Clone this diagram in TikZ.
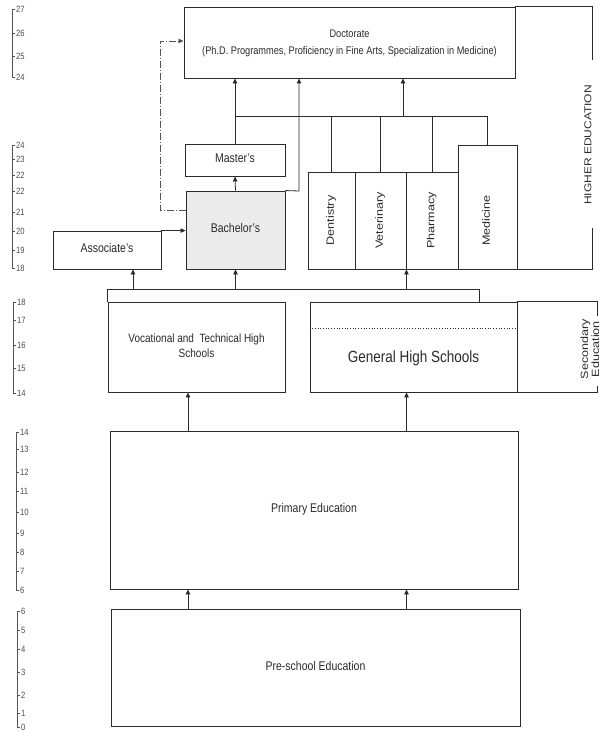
\documentclass[tikz,border=0pt]{standalone}
\usepackage{fontspec}
\setmainfont{Liberation Sans}
\usepackage{graphicx}
\usetikzlibrary{arrows.meta}
\newcommand{\hstr}[1]{\scalebox{1}[1.2]{\begin{tabular}{@{}c@{}}#1\end{tabular}}}
\newcommand{\vstr}[1]{\scalebox{1.2}[1]{\begin{tabular}{@{}c@{}}#1\end{tabular}}}
\definecolor{ink}{HTML}{2B2B2B}
\definecolor{bachfill}{HTML}{EBEBEB}
\begin{document}
\begin{tikzpicture}[x=1pt,y=-1pt,
  box/.style={draw=ink, line width=0.9pt, fill=white, inner sep=0pt, text=ink, align=center},
  link/.style={draw=ink, line width=0.8pt},
  arr/.style={link, -{Triangle[length=5pt,width=4.5pt]}},
  dashlink/.style={draw=ink!80, line width=0.8pt, dash pattern=on 7pt off 2pt on 1pt off 2pt, -{Triangle[length=5pt,width=4.5pt]}},
  lbl/.style={inner sep=0pt, text=ink, align=center},
  scaleline/.style={draw=ink!80, line width=0.7pt},
  scalenum/.style={inner sep=0pt, anchor=west, text=ink!85, font=\fontsize{7.6}{8}\selectfont}
]
\useasboundingbox (0,0) rectangle (601,732);

% ---------- age scales ----------
\draw[scaleline] (15,9) -- (12,9) -- (12,77) -- (15,77);
\foreach \v/\yy [count=\k] in {27/9,26/33,25/56,24/77} {
  \draw[scaleline] (12,\yy) -- (14.5,\yy);
  \node[scalenum] (sa\k) at (16,\yy) {\scalebox{1}[1.2]{\v}};}
\draw[scaleline] (15,145) -- (12,145) -- (12,268) -- (15,268);
\foreach \v/\yy [count=\k] in {24/145,23/159,22/175,22/191,21/212,20/231,19/250,18/268} {
  \draw[scaleline] (12,\yy) -- (14.5,\yy);
  \node[scalenum] (sb\k) at (16,\yy) {\scalebox{1}[1.2]{\v}};}
\draw[scaleline] (16,302) -- (13,302) -- (13,393) -- (16,393);
\foreach \v/\yy [count=\k] in {18/302,17/320,16/345,15/368,14/393} {
  \draw[scaleline] (13,\yy) -- (15.5,\yy);
  \node[scalenum] (sc\k) at (17,\yy) {\scalebox{1}[1.2]{\v}};}
\draw[scaleline] (19,432) -- (16,432) -- (16,590) -- (19,590);
\foreach \v/\yy [count=\k] in {14/432,13/449,12/472,11/491,10/512,9/533,8/552,7/571,6/590} {
  \draw[scaleline] (16,\yy) -- (18.5,\yy);
  \node[scalenum] (sd\k) at (20,\yy) {\scalebox{1}[1.2]{\v}};}
\draw[scaleline] (20,611) -- (17,611) -- (17,727) -- (20,727);
\foreach \v/\yy [count=\k] in {6/611,5/630,4/649,3/672,2/695,1/713,0/727} {
  \draw[scaleline] (17,\yy) -- (19.5,\yy);
  \node[scalenum] (se\k) at (21,\yy) {\scalebox{1}[1.2]{\v}};}

% ---------- boxes ----------
\node[box, minimum width=331pt, minimum height=71pt, font=\fontsize{9.2}{14}\selectfont] (doc) at (349.5,42.5)
  {\hstr{Doctorate\\(Ph.D. Programmes, Proficiency in Fine Arts, Specialization in Medicine)}};
\node[box, minimum width=100pt, minimum height=32pt, font=\fontsize{10.5}{12}\selectfont] (mast) at (235,160) {\hstr{Master's}};
\node[box, fill=bachfill, minimum width=99pt, minimum height=78pt, font=\fontsize{10.5}{12}\selectfont] (bach) at (235.5,230) {\hstr{Bachelor's}};
\node[box, minimum width=108pt, minimum height=38pt, font=\fontsize{10.5}{12}\selectfont] (assoc) at (107,250) {\hstr{Associate's}};

\node[box, minimum width=47pt, minimum height=97pt, font=\fontsize{10.5}{12}\selectfont] (dent) at (331.5,220.5) {\rotatebox{90}{\vstr{Dentistry}}};
\node[box, minimum width=51pt, minimum height=97pt, font=\fontsize{10.5}{12}\selectfont] (vet) at (380.5,220.5) {\rotatebox{90}{\vstr{Veterinary}}};
\node[box, minimum width=52pt, minimum height=97pt, font=\fontsize{10.5}{12}\selectfont] (pharm) at (432,220.5) {\rotatebox{90}{\vstr{Pharmacy}}};
\node[box, minimum width=59pt, minimum height=124pt] (med) at (487.5,207) {};
\node[lbl, font=\fontsize{10.5}{12}\selectfont] (medt) at (487.5,220.5) {\rotatebox{90}{\vstr{Medicine}}};

\node[box, minimum width=177pt, minimum height=90pt, font=\fontsize{10}{12.5}\selectfont] (voc) at (196.5,347)
  {\hstr{Vocational and~~Technical High\\Schools}};
\node[box, minimum width=207pt, minimum height=90pt] (gen) at (413.5,347) {};
\draw[ink, line width=0.7pt, dotted] ([yshift=-27pt]gen.north west) -- ([yshift=-27pt]gen.north east);
\node[lbl, font=\fontsize{13.5}{15}\selectfont] (gent) at (413.5,359) {\hstr{General High Schools}};

\node[box, minimum width=408pt, minimum height=158pt, font=\fontsize{10.5}{12}\selectfont] (prim) at (314,510) {\hstr{Primary Education}};
\node[box, minimum width=409pt, minimum height=117pt, font=\fontsize{10.5}{12}\selectfont] (pre) at (315.5,667.5) {\hstr{Pre-school Education}};

% ---------- side brackets ----------
\coordinate (he1) at (592,60);
\coordinate (he2) at (592,228);
\draw[link] (doc.north east) -| (he1);
\draw[link] (he2) |- (med.south east);
\node[lbl, font=\fontsize{10}{12}\selectfont] (het) at (589,145) {\rotatebox{90}{\vstr{HIGHER EDUCATION}}};

\coordinate (sx1) at (597,316);
\coordinate (sx2) at (597,386);
\draw[link] (gen.north east) -| (sx1);
\draw[link] (sx2) |- (gen.south east);
\draw[link] (gen.north east) -- (gen.south east);
\node[lbl, font=\fontsize{10.5}{11}\selectfont] (set) at (591.5,349) {\rotatebox{90}{\vstr{Secondary\\Education}}};

% ---------- connectors: higher education ----------
\coordinate (hub) at (235,116);
\coordinate (hubd) at (403,116);
\coordinate (bk) at (299,191);
\draw[arr] (mast.north) -- (mast.north |- doc.south);
\draw[arr] (bach.north) -- (mast.south);
\draw[arr] (bach.north east) -- (bk) -- (bk |- doc.south);
\draw[link] (hub) -- (hub -| med.north);
\draw[link] (dent.north |- hub) -- (dent.north);
\draw[link] (vet.north |- hub) -- (vet.north);
\draw[link] (pharm.north |- hub) -- (pharm.north);
\draw[link] (med.north |- hub) -- (med.north);
\draw[arr] (hubd) -- (hubd |- doc.south);
\draw[arr] (assoc.north east) -- (bach.west |- assoc.north east);
\coordinate (dk1) at (160,210);
\coordinate (dk2) at (160,41);
\draw[dashlink] (bach.west |- dk1) -- (dk1) -- (dk2) -- (doc.west |- dk2);

% ---------- connectors: secondary to higher ----------
\coordinate (barR) at (479,289);
\coordinate (a1) at (133,289);
\draw[link] (voc.north west) -- (voc.north west |- barR) -- (barR) -- (barR |- gen.north);
\draw[arr] (a1) -- (a1 |- assoc.south);
\draw[arr] (bach.south |- barR) -- (bach.south);
\draw[arr] (vet.south east |- barR) -- (vet.south east);

% ---------- connectors: lower levels ----------
\coordinate (c1) at (188,600);
\coordinate (c2) at (406.5,600);
\draw[arr] (c1 |- prim.north) -- (c1 |- voc.south);
\draw[arr] (c2 |- prim.north) -- (c2 |- gen.south);
\draw[arr] (c1 |- pre.north) -- (c1 |- prim.south);
\draw[arr] (c2 |- pre.north) -- (c2 |- prim.south);
\end{tikzpicture}
\end{document}
